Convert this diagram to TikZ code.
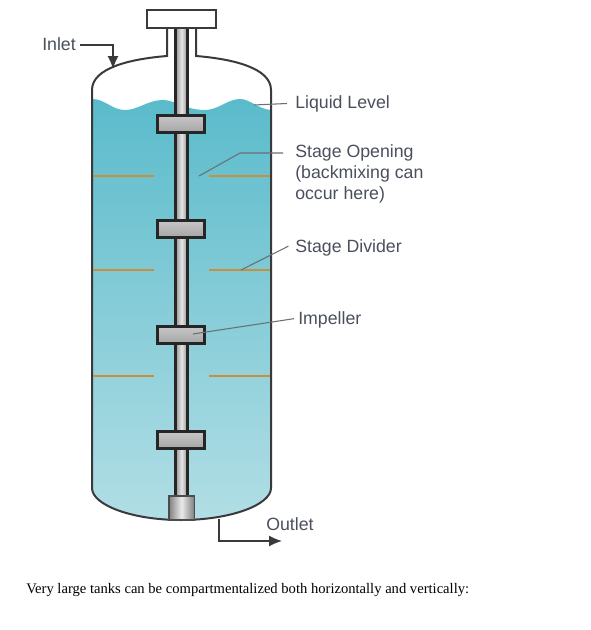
\documentclass[tikz,border=0pt]{standalone}
\usepackage{fontspec}
\setmainfont{Liberation Sans}
\newfontfamily\captionfont{Liberation Serif}
\usepackage{xcolor}
\usetikzlibrary{positioning,arrows.meta,calc}
\definecolor{LiquidTop}{HTML}{5ABBCB}
\definecolor{LiquidBottom}{HTML}{B2DEE5}
\definecolor{DividerOrange}{HTML}{C98F3C}
\definecolor{LabelGray}{HTML}{4A4F5C}
\definecolor{WallGray}{HTML}{3A3A3C}
\definecolor{LeaderGray}{HTML}{6A7074}
\begin{document}
\begin{tikzpicture}[
  x=0.75pt,y=-0.75pt,
  wall/.style={draw=WallGray,line width=1.5pt},
  impeller/.style={draw=black!85,line width=2pt,minimum width=35pt,minimum height=12.5pt,
                   inner sep=0pt,top color=black!22,bottom color=black!35},
  divider/.style={draw=DividerOrange,line width=1.6pt},
  leader/.style={draw=LeaderGray,line width=0.8pt},
  flow/.style={-{Latex[length=3.4mm,width=2.9mm]},draw=WallGray,line width=1.2pt},
  callout/.style={font=\fontsize{13.3}{16}\selectfont,text=LabelGray,align=left,anchor=west,inner sep=0pt}
]
\useasboundingbox (0,0) rectangle (590,630);
% Liquid
\shade[top color=LiquidTop,bottom color=LiquidBottom]
  (92,99) .. controls (105,99) and (112,110) .. (125,110)
  .. controls (138,110) and (148,100) .. (163,100)
  .. controls (175,100) and (185,110) .. (205,110)
  .. controls (218,110) and (228,99) .. (240,99)
  .. controls (250,99) and (258,109) .. (271,110)
  -- (271,488) .. controls (271,505) and (230,520) .. (181,520)
  .. controls (132,520) and (92,505) .. (92,488) -- cycle;
% Tank wall
\draw[wall] (167,28) -- (167,56) .. controls (130,59) and (92,68) .. (92,90) -- (92,488)
  .. controls (92,505) and (132,520) .. (181,520)
  .. controls (230,520) and (271,505) .. (271,488) -- (271,90)
  .. controls (271,68) and (233,59) .. (196,56) -- (196,28);
% Shaft and motor
\shade[left color=black!40,right color=black!40,middle color=black!10] (176,28) rectangle (187,498);
\draw[black!85,line width=2.2pt] (175.5,28) -- (175.5,498) (187.5,28) -- (187.5,498);
\node[draw=WallGray,line width=1.5pt,fill=white,minimum width=52pt,minimum height=13.5pt,inner sep=0pt] (motor) at (181.5,19) {};
\node[draw=black!70,line width=1pt,left color=black!50,right color=black!50,middle color=black!8,
      minimum width=19pt,minimum height=18pt,inner sep=0pt] (bearing) at (181.5,508) {};
% Impellers
\foreach \name/\ypos in {imptop/124,imptwo/229,impthree/335,impfour/440}
  \node[impeller] (\name) at (181,\ypos) {};
% Stage dividers
\foreach \ypos in {176,270,376}{
  \draw[divider] (93,\ypos) -- (154,\ypos);
  \draw[divider] (209,\ypos) -- (270,\ypos);
}
% Labels
\node[callout] (inlet) at (42,44.5) {Inlet};
\node[callout] (level) at (295,103.5) {Liquid Level};
\node[callout] (opening) at (295,174) {Stage Opening\\(backmixing can\\occur here)};
\node[callout] (dividerlabel) at (295,247.5) {Stage Divider};
\node[callout] (impellerlabel) at (298,320) {Impeller};
\node[callout] (outlet) at (266,524) {Outlet};
\node[font=\captionfont\fontsize{10.95}{13}\selectfont,anchor=west,inner sep=0pt] (note) at (26,590)
  {Very large tanks can be compartmentalized both horizontally and vertically:};
% Connectors
\coordinate (inletend) at (113,69);
\coordinate (levelend) at (254,105);
\coordinate (openingend) at (199,176);
\coordinate (dividerend) at (241,270);
\coordinate (impellerend) at (193,334);
\coordinate (outletstart) at (219,519);
\coordinate (outletend) at (282,541);
\draw[flow] (inlet.east) ++(3pt,-0.5pt) coordinate (inletstart) -- (inletstart -| inletend) -- (inletend);
\draw[leader] (level.west) ++(-6pt,0) -- (levelend);
\draw[leader] ($(opening.west |- 0,153)+(-9pt,0)$) -- (240,153) -- (openingend);
\draw[leader] (dividerlabel.west) ++(-5pt,1pt) -- (dividerend);
\draw[leader] (impellerlabel.west) ++(-3pt,1pt) -- (impellerend);
\draw[flow] (outletstart) |- (outletend);
\end{tikzpicture}
\end{document}
